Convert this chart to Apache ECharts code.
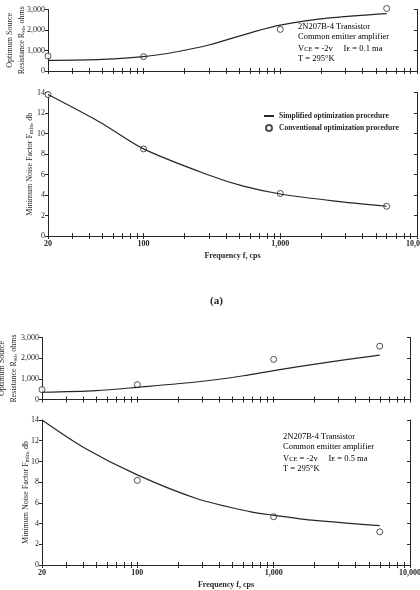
<!DOCTYPE html>
<html>
<head>
<meta charset="utf-8">
<script src="https://cdn.jsdelivr.net/npm/echarts@6.0.0/dist/echarts.min.js"></script>
<style>
html, body { margin: 0; padding: 0; background: #fff; }
#chart { width: 420px; height: 590px; }
</style>
</head>
<body>
<div id="chart"></div>
<script>
// frequency ticks (cps), log decades
var freqTicks = [20, 30, 40, 50, 60, 70, 80, 90, 100, 200, 300, 400, 500, 600, 700, 800, 900,
    1000, 2000, 3000, 4000, 5000, 6000, 7000, 8000, 9000, 10000];
var freqLabels = [20, 100, 1000, 10000];

// (a)  I_E = 0.1 ma
var rsoCurveA = [[20, 520], [50, 570], [100, 700], [175, 940], [300, 1270], [630, 1900], [1000, 2240], [2400, 2600], [6000, 2800]];
var rsoPointsA = [[20, 730], [100, 700], [1000, 2030], [6000, 3050]];
var fminCurveA = [[20, 13.8], [48, 11.1], [100, 8.5], [306, 5.9], [537, 4.86], [1000, 4.1], [2430, 3.43], [6000, 2.9]];
var fminPointsA = [[20, 13.8], [100, 8.5], [1000, 4.15], [6000, 2.9]];

// (b)  I_E = 0.5 ma
var rsoCurveB = [[20, 350], [50, 430], [100, 590], [290, 870], [600, 1150], [1000, 1400], [2200, 1750], [6000, 2150]];
var rsoPointsB = [[20, 480], [100, 720], [1000, 1940], [6000, 2580]];
var fminCurveB = [[20, 14], [41, 11.3], [100, 8.7], [275, 6.4], [670, 5.15], [1000, 4.8], [2000, 4.3], [6000, 3.8]];
var fminPointsB = [[100, 8.17], [1000, 4.66], [6000, 3.2]];

var ink = '#262626';
var serif = 'Liberation Serif';

var rich = {
    a: { fontFamily: serif, fontSize: 8, color: ink, lineHeight: 12, verticalAlign: 'bottom' },
    s: { fontFamily: serif, fontSize: 6, color: ink, padding: [5, 0, 0, 0], verticalAlign: 'bottom' }
};

function freqFmt(v) {
    return v >= 1000 ? Math.floor(v / 1000) + ',' + String(v % 1000 + 1000).slice(1) : String(v);
}

function xAxes(grid, labels) {
    var base = {
        type: 'log', logBase: 10, min: 20, max: 10000, gridIndex: grid,
        axisLine: { show: true, lineStyle: { color: ink, width: 1 } },
        axisTick: { show: true, inside: true, length: 3, customValues: freqTicks, lineStyle: { color: ink } },
        splitLine: { show: false },
        minorTick: { show: false }
    };
    var bottom = echarts.util.merge({
        position: 'bottom',
        axisLabel: {
            show: labels, customValues: freqLabels, formatter: freqFmt, margin: 4,
            fontFamily: serif, fontSize: 8, color: ink, fontWeight: 'bold'
        }
    }, base);
    if (labels) {
        bottom.name = 'Frequency f, cps';
        bottom.nameLocation = 'middle';
        bottom.nameGap = 16;
        bottom.nameMoveOverlap = false;
        bottom.nameTextStyle = { fontFamily: serif, fontSize: 8, fontWeight: 'bold', color: ink };
    }
    var top = echarts.util.merge({ position: 'top', axisLabel: { show: false } }, echarts.util.clone(base));
    return [bottom, top];
}

function yAxes(grid, max, interval, name, gap) {
    var left = {
        type: 'value', gridIndex: grid, min: 0, max: max, interval: interval, position: 'left',
        axisLine: { show: true, lineStyle: { color: ink } },
        axisTick: { show: true, inside: false, length: 3, lineStyle: { color: ink } },
        axisLabel: {
            margin: 3, fontFamily: serif, fontSize: 8, color: ink,
            formatter: function (v) { return freqFmt(v); }
        },
        splitLine: { show: false },
        name: name, nameLocation: 'middle', nameRotate: 90, nameGap: gap,
        nameMoveOverlap: false,
        nameTextStyle: { rich: rich }
    };
    var right = {
        type: 'value', gridIndex: grid, min: 0, max: max, interval: interval, position: 'right',
        axisLine: { show: true, lineStyle: { color: ink } },
        axisTick: { show: true, inside: true, length: 3, lineStyle: { color: ink } },
        axisLabel: { show: false },
        splitLine: { show: false }
    };
    return [left, right];
}

var rsoName = '{a|Optimum Source}\n{a|Resistance R}{s|so}{a|, ohms}';
var fminName = '{a|Minimum Noise Factor F}{s|min}{a|, db}';

var xs = [].concat(xAxes(0, false), xAxes(1, true), xAxes(2, false), xAxes(3, true));
var ys = [].concat(
    yAxes(0, 3000, 1000, rsoName, 22),
    yAxes(1, 14, 2, fminName, 14),
    yAxes(2, 3000, 1000, rsoName, 24),
    yAxes(3, 14, 2, fminName, 12)
);

function curve(name, i, data) {
    return {
        name: name, type: 'line', xAxisIndex: i * 2, yAxisIndex: i * 2, data: data,
        smooth: 0.3, symbol: 'none', silent: true,
        lineStyle: { color: ink, width: 1.2 }, itemStyle: { color: ink }
    };
}
function points(name, i, data) {
    return {
        name: name, type: 'scatter', xAxisIndex: i * 2, yAxisIndex: i * 2, data: data,
        symbol: 'circle', symbolSize: 6, clip: false,
        itemStyle: { color: '#fff', borderColor: ink, borderWidth: 1 }
    };
}

function note(x, y, ie) {
    return {
        type: 'text', left: x, top: y,
        style: {
            text: '{a|2N207B-4 Transistor}\n{a|Common emitter amplifier}\n{a|V}{s|CE}{a| = -2v     I}{s|E}{a| = ' + ie + ' ma}\n{a|T = 295°K}',
            rich: {
                a: { fontFamily: serif, fontSize: 8.5, color: ink, lineHeight: 10, verticalAlign: 'bottom' },
                s: { fontFamily: serif, fontSize: 6.5, color: ink, padding: [5, 0, 0, 0], verticalAlign: 'bottom' }
            }
        }
    };
}

var grids = [
    { left: 48, top: 9.5, width: 369, height: 61.5 },
    { left: 48, top: 92.5, width: 369, height: 143.5 },
    { left: 42, top: 337.5, width: 368, height: 62 },
    { left: 42, top: 420, width: 368, height: 145 }
];
grids.forEach(function (g) { g.outerBoundsMode = 'none'; g.containLabel = false; });

var chart = echarts.init(document.getElementById('chart'), null, { renderer: 'canvas' });
chart.setOption({
    backgroundColor: '#fff',
    animation: false,
    grid: grids,
    xAxis: xs,
    yAxis: ys,
    legend: {
        left: 258, top: 107, orient: 'vertical', itemGap: 4, itemWidth: 10, itemHeight: 6,
        data: [
            { name: 'Simplified optimization procedure', itemStyle: { opacity: 0 } },
            { name: 'Conventional optimization procedure' }
        ],
        textStyle: { fontFamily: serif, fontSize: 7.5, fontWeight: 'bold', color: ink },
        selectedMode: false
    },
    graphic: [
        note(298, 22, '0.1'),
        note(283, 432, '0.5'),
        { type: 'text', left: 210, top: 296, style: { text: '(a)', fontFamily: serif, fontSize: 11, fontWeight: 'bold', fill: ink } }
    ],
    series: [
        curve('Simplified optimization procedure', 0, rsoCurveA),
        points('Conventional optimization procedure', 0, rsoPointsA),
        curve('Simplified optimization procedure', 1, fminCurveA),
        points('Conventional optimization procedure', 1, fminPointsA),
        curve('b-curve', 2, rsoCurveB),
        points('b-points', 2, rsoPointsB),
        curve('b-curve', 3, fminCurveB),
        points('b-points', 3, fminPointsB)
    ]
});
</script>
</body>
</html>
